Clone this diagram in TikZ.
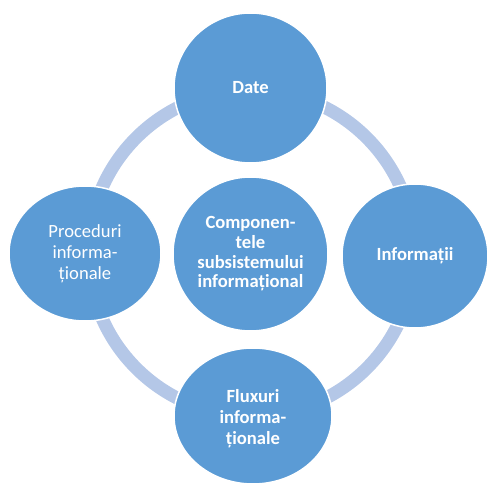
\documentclass[tikz,border=0pt]{standalone}
\usepackage{fontspec}
\setmainfont{Carlito}
\usetikzlibrary{shapes.geometric}
\definecolor{bluefill}{HTML}{5B9BD5}
\definecolor{ringc}{HTML}{B4C7E7}
\begin{document}
\begin{tikzpicture}[x=1pt,y=1pt,
  blob/.style={ellipse, fill=bluefill, draw=white, line width=1.5pt, inner sep=0pt,
    text=white, align=center, font=\fontsize{18.6}{20.6}\selectfont\bfseries},
  ringstyle/.style={circle, draw=ringc, line width=13pt, inner sep=0pt, minimum size=326pt}]
\path[use as bounding box] (0,0) rectangle (488,485);
\node[ringstyle] (ring) at (251.5,232) {};
\node[blob, minimum width=153pt, minimum height=150pt] (date) at (250.5,397) {Date};
\node[blob, minimum width=155pt, minimum height=154pt, font=\fontsize{18.6}{19.6}\selectfont\bfseries] (centre) at (250.5,231) {Componen-\\tele\\subsistemului\\informațional};
\node[blob, minimum width=146pt, minimum height=144pt] (info) at (415,229) {Informații};
\node[blob, minimum width=152pt, minimum height=135pt, font=\fontsize{18.6}{20.8}\selectfont] (proc) at (85,231.5) {Proceduri\\informa-\\ționale};
\node[blob, minimum width=158pt, minimum height=136pt] (flux) at (253,69) {};
\node[text=white, align=center, font=\fontsize{18.6}{20.8}\selectfont\bfseries] (fluxtext) at (253,66.5) {Fluxuri\\informa-\\ționale};
\end{tikzpicture}
\end{document}
